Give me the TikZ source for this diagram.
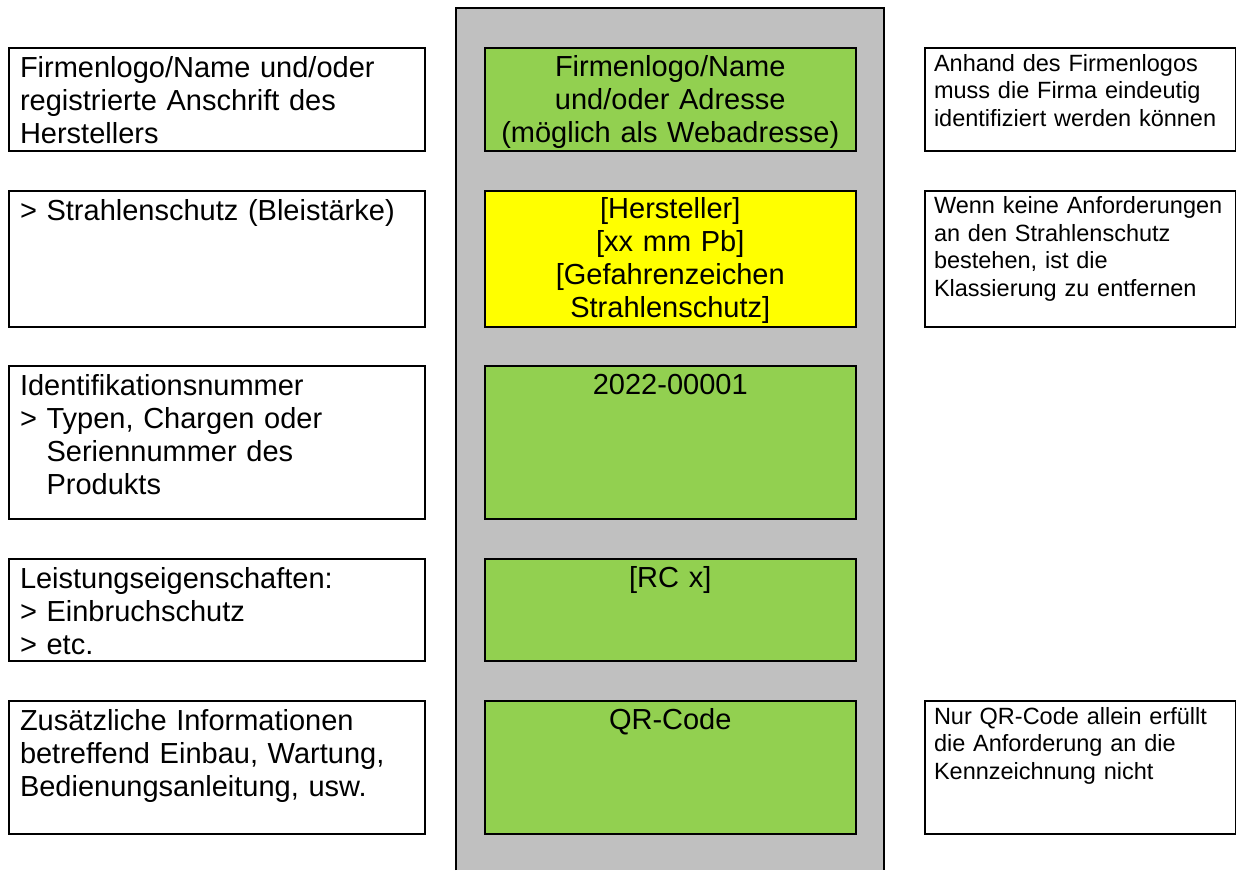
\documentclass[tikz,border=0pt]{standalone}
\usepackage{fontspec}
\setmainfont{Liberation Sans}
\usepackage{xcolor}
\usepackage{tikz}

\definecolor{labelgreen}{HTML}{92D050}
\definecolor{labelyellow}{HTML}{FFFF00}
\definecolor{plategrey}{HTML}{C0C0C0}

\tikzset{
  infobox/.style={draw=black, line width=2pt, anchor=north west, inner xsep=11pt, inner ysep=0pt,
    text width=394pt, align=left, text height=29.7pt, font=\fontsize{29}{33}\selectfont},
  labelbox/.style={draw=black, line width=2pt, fill=labelgreen, anchor=north west, inner sep=0pt,
    text width=371.5pt, align=center, text height=28pt, font=\fontsize{29}{33}\selectfont},
  notebox/.style={draw=black, line width=2pt, anchor=north west, inner xsep=9.5pt, inner ysep=0pt,
    text width=292pt, align=left, text height=23pt, font=\fontsize{23.5}{27.5}\selectfont},
}

\begin{document}
\begin{tikzpicture}[x=1pt, y=-1pt]
    \useasboundingbox (0,0) rectangle (1236,870);

    \fill[plategrey] (455.5,8) rectangle (884,870);
    \draw[line width=2pt] (455.5,870) |- (884,8) -- (884,870);

    \node[infobox, text depth=72.8pt] (firmainfo) at (8,47) {Firmenlogo/Name und/oder\\registrierte Anschrift des\\Herstellers};
    \node[infobox, text depth=106.3pt] (schutzinfo) at (8,189.5) {> Strahlenschutz (Bleistärke)};
    \node[infobox, text depth=122.8pt] (nummerinfo) at (8,365) {Identifikationsnummer\\> Typen, Chargen oder\\\phantom{> }Seriennummer des\\\phantom{> }Produkts};
    \node[infobox, text depth=71.8pt] (leistunginfo) at (8,558) {Leistungseigenschaften:\\> Einbruchschutz\\> etc.};
    \node[infobox, text depth=102.8pt] (zusatzinfo) at (8,700) {Zusätzliche Informationen\\betreffend Einbau, Wartung,\\Bedienungsanleitung, usw.};

    \node[labelbox, text depth=74.5pt] (firmalabel) at (483.5,47) {Firmenlogo/Name\\und/oder Adresse\\(möglich als Webadresse)};
    \node[labelbox, fill=labelyellow, text depth=108pt] (schutzlabel) at (483.5,189.5) {[Hersteller]\\{}[xx mm Pb]\\{}[Gefahrenzeichen\\Strahlenschutz]};
    \node[labelbox, text depth=124.5pt] (nummerlabel) at (483.5,365) {2022-00001};
    \node[labelbox, text depth=73.5pt] (leistunglabel) at (483.5,558) {[RC x]};
    \node[labelbox, text depth=104.5pt] (zusatzlabel) at (483.5,700) {QR-Code};

    \node[notebox, text depth=79.5pt] (firmanote) at (923.5,47) {Anhand des Firmenlogos\\muss die Firma eindeutig\\identifiziert werden können};
    \node[notebox, text depth=113pt] (schutznote) at (923.5,189.5) {Wenn keine Anforderungen\\an den Strahlenschutz\\bestehen, ist die\\Klassierung zu entfernen};
    \node[notebox, text depth=109.5pt] (zusatznote) at (923.5,700) {Nur QR-Code allein erfüllt\\die Anforderung an die\\Kennzeichnung nicht};
\end{tikzpicture}
\end{document}
